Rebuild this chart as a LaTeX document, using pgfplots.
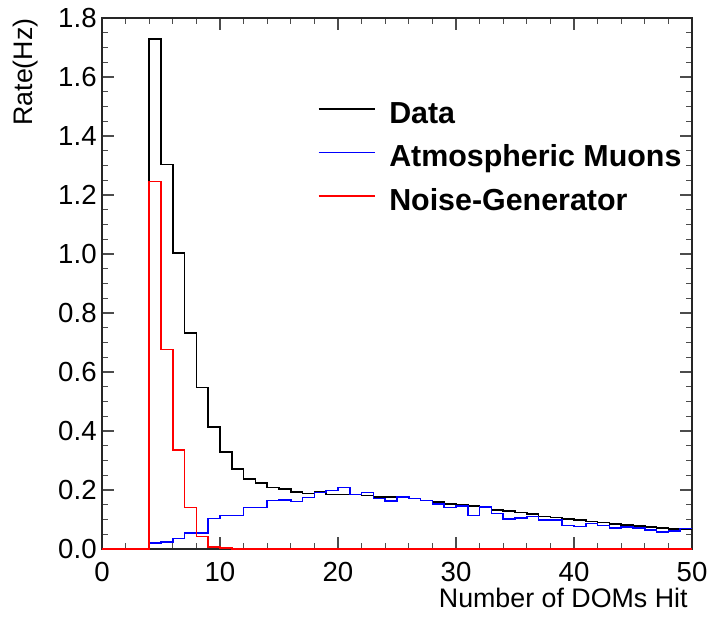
\documentclass[border=0pt]{standalone}
\usepackage{fontspec}
\setmainfont{Liberation Sans}
\usepackage{pgfplots}
\usepackage{pgfplotstable}
\pgfplotsset{compat=1.18}

% Rate per bin (left bin edge, width 1); the last row closes the final bin at x=50
\pgfplotstableread{
x  data   muons  noise
0  0      0      0
1  0      0      0
2  0      0      0
3  0      0      0
4  1.728  0.020  1.245
5  1.303  0.024  0.676
6  1.004  0.036  0.336
7  0.733  0.055  0.140
8  0.548  0.055  0.042
9  0.413  0.103  0.007
10 0.328  0.113  0.003
11 0.272  0.113  0
12 0.238  0.140  0
13 0.224  0.140  0
14 0.209  0.165  0
15 0.203  0.166  0
16 0.193  0.161  0
17 0.188  0.174  0
18 0.193  0.191  0
19 0.184  0.198  0
20 0.184  0.208  0
21 0.184  0.185  0
22 0.181  0.192  0
23 0.177  0.172  0
24 0.177  0.163  0
25 0.175  0.177  0
26 0.171  0.171  0
27 0.165  0.165  0
28 0.160  0.153  0
29 0.153  0.141  0
30 0.149  0.146  0
31 0.146  0.113  0
32 0.142  0.143  0
33 0.133  0.120  0
34 0.129  0.102  0
35 0.124  0.105  0
36 0.119  0.111  0
37 0.111  0.099  0
38 0.106  0.099  0
39 0.102  0.079  0
40 0.098  0.076  0
41 0.094  0.086  0
42 0.089  0.080  0
43 0.085  0.071  0
44 0.081  0.075  0
45 0.078  0.071  0
46 0.075  0.064  0
47 0.071  0.057  0
48 0.068  0.061  0
49 0.068  0.070  0
50 0.068  0.070  0
}\hist

\begin{document}
\begin{tikzpicture}
\begin{axis}[
  scale only axis,
  width=295pt, height=265.5pt,
  xmin=0, xmax=50, ymin=0, ymax=1.8,
  xtick={0,10,20,30,40,50}, minor x tick num=4,
  ytick={0,0.2,0.4,0.6,0.8,1.0,1.2,1.4,1.6,1.8}, minor y tick num=3,
  tick align=inside,
  major tick length=5.8pt, minor tick length=3.2pt,
  every tick/.style={black!70, line width=0.55pt},
  axis line style={black!85, line width=0.9pt},
  clip=false,
  /pgf/number format/assume math mode=true,
  ticklabel style={font=\fontsize{13.8}{16}\selectfont, inner sep=0pt},
  xticklabel shift=6.5pt,
  yticklabel shift=2.5pt,
  yticklabel style={/pgf/number format/.cd, fixed, fixed zerofill, precision=1},
  xlabel={Number of DOMs Hit},
  xlabel style={at={(rel axis cs:1,0)}, anchor=base east, inner sep=0pt,
    yshift=-29pt, xshift=-2pt, font=\fontsize{13.4}{16}\selectfont},
  ylabel={Rate(Hz)},
  ylabel style={at={([xshift=-34.5pt]rel axis cs:0,1)}, anchor=base east,
    inner sep=0pt, font=\fontsize{13.4}{16}\selectfont},
  legend cell align=left,
  legend image code/.code={\draw[#1] (0pt,3.4pt) -- (28pt,3.4pt);},
  legend style={at={(rel axis cs:0.365,0.843)}, anchor=north west,
    draw=none, fill=none, inner sep=0pt, row sep=7.6pt, column sep=7pt,
    font=\bfseries\fontsize{15.2}{17}\selectfont,
    nodes={inner sep=0pt, text height=10.9pt, text depth=3.2pt}},
]
\addplot[const plot mark left, black, line width=0.75pt] table[x=x, y=data] {\hist};
\addlegendentry{Data}
\addplot[const plot mark left, blue, line width=0.75pt] table[x=x, y=muons] {\hist};
\addlegendentry{Atmospheric Muons}
\addplot[const plot mark left, red, line width=0.75pt] table[x=x, y=noise] {\hist};
\addlegendentry{Noise-Generator}
\coordinate (fsw) at (rel axis cs:0,0);
\coordinate (fne) at (rel axis cs:1,1);
\end{axis}
\pgfresetboundingbox
\path[use as bounding box] ([shift={(-51pt,-33.5pt)}]fsw) rectangle ([shift={(9.5pt,9pt)}]fne);
\end{tikzpicture}
\end{document}
